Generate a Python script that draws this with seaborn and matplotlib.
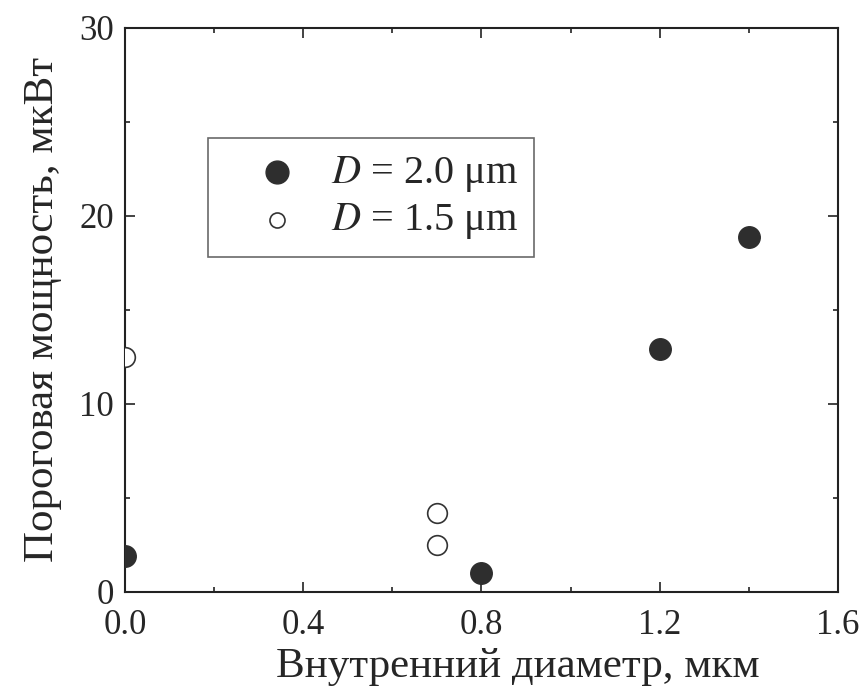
import matplotlib
matplotlib.use("Agg")
import matplotlib.pyplot as plt
from matplotlib.ticker import MultipleLocator
import seaborn as sns
import pandas as pd

# Threshold power vs. inner diameter for two outer diameters
d20_inner = [0.0, 0.8, 1.2, 1.4]
d20_power = [1.9, 1.0, 12.9, 18.9]
d15_inner = [0.0, 0.7, 0.7]
d15_power = [12.5, 4.2, 2.5]

series_labels = ["$D$ = 2.0 μm", "$D$ = 1.5 μm"]
x_label = "Внутренний диаметр, мкм"
y_label = "Пороговая мощность, мкВт"

sns.set_style("ticks")
plt.rcParams["font.family"] = ["Liberation Serif", "DejaVu Serif"]
plt.rcParams["mathtext.fontset"] = "stix"

fig = plt.figure(figsize=(8.59, 6.98), dpi=100)
ax = fig.add_axes([0.1455, 0.152, 0.83, 0.808])

df20 = pd.DataFrame({"x": d20_inner, "y": d20_power})
df15 = pd.DataFrame({"x": d15_inner, "y": d15_power})

sns.scatterplot(data=df20, x="x", y="y", ax=ax, s=240, color="#2e2e2e",
                edgecolor="#2e2e2e", linewidth=1.0, label=series_labels[0],
                zorder=3)
sns.scatterplot(data=df15, x="x", y="y", ax=ax, s=200, facecolor="white",
                edgecolor="#333333", linewidth=1.2, label=series_labels[1],
                zorder=3)

ax.set_xlim(0, 1.6)
ax.set_ylim(0, 30)
ax.xaxis.set_major_locator(MultipleLocator(0.4))
ax.xaxis.set_minor_locator(MultipleLocator(0.2))
ax.yaxis.set_major_locator(MultipleLocator(10))
ax.yaxis.set_minor_locator(MultipleLocator(5))
ax.xaxis.set_major_formatter(plt.FuncFormatter(lambda v, p: f"{v:.1f}"))

ax.tick_params(which="both", direction="in", top=True, right=True,
               labelsize=25, color="#222222")
ax.tick_params(which="major", length=7, width=1.2)
ax.tick_params(which="minor", length=3.5, width=1.2)
ax.tick_params(axis="x", pad=12)
ax.tick_params(axis="y", pad=8)
for sp in ax.spines.values():
    sp.set_linewidth(1.5)
    sp.set_color("#222222")

ax.set_xlabel(x_label, fontsize=31, labelpad=4, x=0.551)
ax.set_ylabel(y_label, fontsize=31, labelpad=12)

leg = ax.legend(loc="upper left", bbox_to_anchor=(0.116, 0.805),
                borderaxespad=0, fontsize=29, frameon=True, fancybox=False,
                edgecolor="#444444", handletextpad=0.0, borderpad=0.4,
                labelspacing=0.18, handlelength=2.65)
leg.get_frame().set_linewidth(1.2)
handles = leg.legend_handles
handles[0].set_sizes([270])
handles[1].set_sizes([117])

fig.savefig("out.png", dpi=100)
